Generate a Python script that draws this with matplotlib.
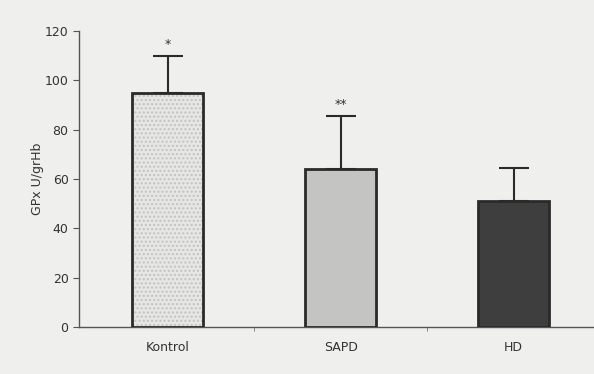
"""GPx activity by group: bar chart with upward error bars."""

import matplotlib.pyplot as plt

GROUPS = ["Kontrol", "SAPD", "HD"]
MEANS = [95, 64, 51]
ERRORS = [15, 21.5, 13.5]
MARKS = ["*", "**", ""]

FILLS = ["#e6e6e4", "#c4c4c2", "#3e3e3e"]
BG = "#efefed"
INK = "#333333"


def main() -> None:
    fig = plt.figure(figsize=(5.94, 3.74), dpi=100, facecolor=BG)
    ax = fig.add_axes([0.133, 0.1257, 0.867, 0.7914], facecolor=BG)

    x = range(len(GROUPS))
    width = 0.41

    # dotted texture for the control bar, drawn underneath the outlined bars
    ax.bar([0], [MEANS[0]], width=width, color=FILLS[0], edgecolor="#c2c2c0",
           hatch="....", linewidth=0, zorder=2)
    ax.bar(x, MEANS, width=width, color=["none", FILLS[1], FILLS[2]],
           edgecolor="#2a2a2a", linewidth=2, zorder=3)
    ax.errorbar(x, MEANS, yerr=[[0] * len(ERRORS), ERRORS], fmt="none",
                ecolor="#2a2a2a", elinewidth=1.5, capsize=11, capthick=1.5,
                zorder=4)

    for i, (m, e, mark) in enumerate(zip(MEANS, ERRORS, MARKS)):
        if mark:
            ax.text(i, m + e + 2, mark, ha="center", va="bottom",
                    fontsize=9, color=INK)

    ax.set_xlim(-0.512, 2.465)
    ax.set_ylim(0, 120)
    ax.set_yticks(range(0, 121, 20))
    ax.set_xticks(list(x))
    ax.set_xticklabels(GROUPS)
    ax.set_xticks([0.5, 1.5], minor=True)
    ax.tick_params(axis="x", which="major", length=0, pad=10,
                   labelsize=9, labelcolor=INK)
    ax.tick_params(axis="x", which="minor", length=3, color="#777777")
    ax.tick_params(axis="y", length=4, width=0.8, color="#555555",
                   labelsize=9, labelcolor=INK)

    ax.set_ylabel("GPx U/grHb", fontsize=9, color=INK)
    ax.yaxis.set_label_coords(-0.067, 0.5)

    for side in ("top", "right"):
        ax.spines[side].set_visible(False)
    for side in ("left", "bottom"):
        ax.spines[side].set_color("#555555")
        ax.spines[side].set_linewidth(1)

    fig.savefig("out.png", dpi=100, facecolor=BG)
    plt.close(fig)


if __name__ == "__main__":
    main()
